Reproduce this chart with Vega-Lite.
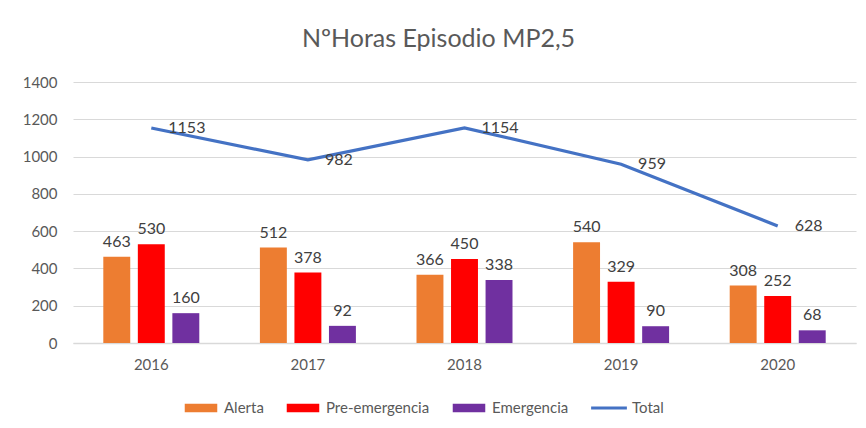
{
  "$schema": "https://vega.github.io/schema/vega-lite/v6.json",
  "width": 783,
  "height": 261,
  "autosize": "none",
  "padding": {"left": 73, "top": 82, "right": 10, "bottom": 85},
  "background": "white",
  "config": {
    "font": "Lato",
    "view": {"stroke": null},
    "axis": {"labelColor": "#595959", "labelFont": "Lato", "labelFontSize": 15, "ticks": false, "title": null}
  },
  "title": {"text": "NºHoras Episodio MP2,5", "fontSize": 25, "fontWeight": "normal", "color": "#595959", "font": "Lato", "anchor": "middle", "offset": 23, "dx": -26},
  "datasets": {
    "bars": [
      {"year": "2016", "series": "Alerta", "value": 463},
      {"year": "2016", "series": "Pre-emergencia", "value": 530},
      {"year": "2016", "series": "Emergencia", "value": 160},
      {"year": "2017", "series": "Alerta", "value": 512},
      {"year": "2017", "series": "Pre-emergencia", "value": 378},
      {"year": "2017", "series": "Emergencia", "value": 92},
      {"year": "2018", "series": "Alerta", "value": 366},
      {"year": "2018", "series": "Pre-emergencia", "value": 450},
      {"year": "2018", "series": "Emergencia", "value": 338},
      {"year": "2019", "series": "Alerta", "value": 540},
      {"year": "2019", "series": "Pre-emergencia", "value": 329},
      {"year": "2019", "series": "Emergencia", "value": 90},
      {"year": "2020", "series": "Alerta", "value": 308},
      {"year": "2020", "series": "Pre-emergencia", "value": 252},
      {"year": "2020", "series": "Emergencia", "value": 68}
    ],
    "total": [
      {"year": "2016", "series": "Total", "value": 1153},
      {"year": "2017", "series": "Total", "value": 982},
      {"year": "2018", "series": "Total", "value": 1154},
      {"year": "2019", "series": "Total", "value": 959},
      {"year": "2020", "series": "Total", "value": 628}
    ]
  },
  "encoding": {
    "x": {"field": "year", "type": "nominal", "scale": {"paddingInner": 0.387, "paddingOuter": 0.1935},
      "axis": {"labelAngle": 0, "labelPadding": 14, "domainColor": "#d9d9d9", "domainWidth": 1.5, "grid": false}},
    "y": {"field": "value", "type": "quantitative", "scale": {"domain": [0, 1400]},
      "axis": {"values": [0, 200, 400, 600, 800, 1000, 1200, 1400], "format": "d", "domain": false, "gridColor": "#d9d9d9", "gridWidth": 1.2, "labelPadding": 16}}
  },
  "layer": [
    {
      "data": {"name": "bars"},
      "mark": {"type": "bar"},
      "encoding": {
        "xOffset": {"field": "series", "type": "nominal", "scale": {"domain": ["Alerta", "Pre-emergencia", "Emergencia"], "paddingInner": 0.22, "paddingOuter": 0}},
        "color": {"field": "series", "type": "nominal",
          "scale": {"domain": ["Alerta", "Pre-emergencia", "Emergencia", "Total"], "range": ["#ED7D31", "#FF0000", "#7030A0", "#4472C4"]},
          "legend": {"orient": "none", "direction": "horizontal", "legendX": 117, "legendY": 315, "title": null,
            "labelFont": "Lato", "labelFontSize": 15, "labelColor": "#595959", "columnPadding": 22, "labelOffset": 12,
            "symbolSize": 470,
            "encode": {"symbols": {"update": {
              "shape": {"signal": "datum.value === 'Total' ? 'M-1.65,-0.14H1.65V0.14H-1.65Z' : 'M-1.5,-0.4H1.5V0.4H-1.5Z'"},
              "fill": {"signal": "scale('color', datum.value)"},
              "strokeWidth": {"value": 0}, "opacity": {"value": 1}, "fillOpacity": {"value": 1}}}}}}
      }
    },
    {
      "data": {"name": "bars"},
      "mark": {"type": "text", "baseline": "bottom", "dy": -7, "fontSize": 16, "color": "#404040", "font": "Lato"},
      "encoding": {
        "xOffset": {"field": "series", "type": "nominal", "scale": {"domain": ["Alerta", "Pre-emergencia", "Emergencia"], "paddingInner": 0.22, "paddingOuter": 0}},
        "text": {"field": "value", "type": "quantitative"}
      }
    },
    {
      "data": {"name": "total"},
      "mark": {"type": "line", "strokeWidth": 3.2},
      "encoding": {
        "color": {"field": "series", "type": "nominal"}
      }
    },
    {
      "data": {"name": "total"},
      "mark": {"type": "text", "align": "left", "baseline": "middle", "dx": 17, "fontSize": 16, "color": "#404040", "font": "Lato"},
      "encoding": {
        "text": {"field": "value", "type": "quantitative"}
      }
    }
  ]
}
